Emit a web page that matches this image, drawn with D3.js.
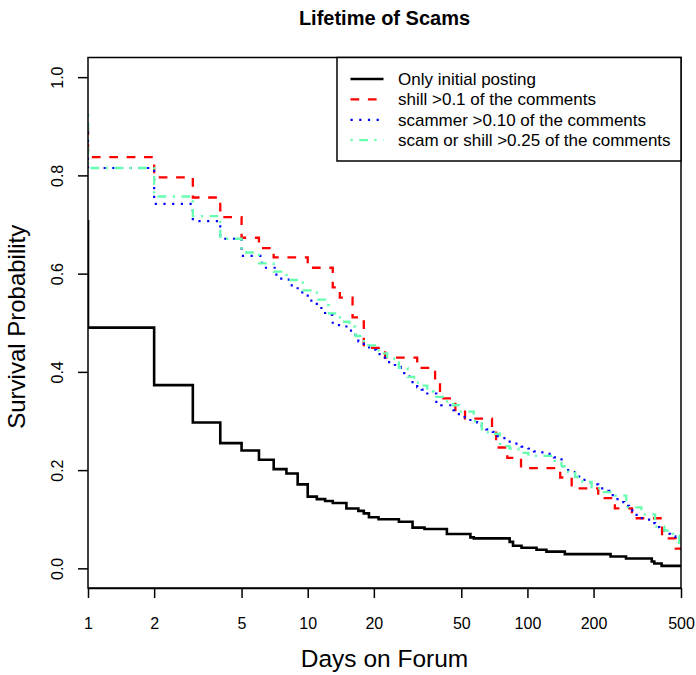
<!DOCTYPE html>
<html>
<head>
<meta charset="utf-8">
<script src="https://cdn.jsdelivr.net/npm/d3@7"></script>
<style>
  body { margin: 0; background: #fff; }
  text { font-family: "Liberation Sans", Arial, sans-serif; }
</style>
</head>
<body>
<div id="chart"></div>
<script>
// survival curves (time in days, survival after the step)
var blackStart = 0.709;
var blackTimes = [1, 2, 3, 4, 5, 6, 7, 8, 9, 10, 11, 12, 13, 15, 17, 18, 19, 21, 26, 30, 34, 43, 55, 57, 83, 86, 94, 110, 122, 148, 239, 281, 368, 378, 408];
var blackSurv = [0.490, 0.373, 0.297, 0.255, 0.240, 0.221, 0.202, 0.193, 0.171, 0.146, 0.141, 0.137, 0.133, 0.122, 0.117, 0.112, 0.104, 0.100, 0.095, 0.083, 0.080, 0.070, 0.063, 0.061, 0.054, 0.046, 0.042, 0.038, 0.034, 0.029, 0.024, 0.020, 0.014, 0.010, 0.005];

var redStart = 0.90;
var redTimes = [1, 2, 3, 4, 5, 6, 7, 10, 13, 14, 16, 18, 22.5, 31.5, 38, 40, 47, 52, 69, 72, 81, 93.5, 141, 159, 210, 250, 299, 410, 473];
var redSurv = [0.837, 0.796, 0.755, 0.715, 0.673, 0.652, 0.633, 0.612, 0.572, 0.551, 0.511, 0.449, 0.429, 0.408, 0.380, 0.346, 0.322, 0.305, 0.280, 0.246, 0.225, 0.204, 0.185, 0.163, 0.143, 0.122, 0.102, 0.061, 0.040];

var blueStart = 0.925;
var blueTimes = [1, 2, 3, 4, 5, 6.2, 7.2, 8.2, 9, 10, 11, 12, 13, 15, 16.5, 17, 18, 19.5, 20.5, 21.5, 22.5, 24, 25, 26.5, 27.5, 29, 30, 31.5, 33, 34.5, 38.5, 40.5, 46, 48, 51, 55, 59, 62, 65, 69.5, 73, 77.5, 82, 88, 94, 101, 107, 115, 124, 132, 143, 150, 161, 168, 178, 189, 202, 210, 222, 236, 251, 262, 276, 290, 306, 320, 343, 364, 381, 398, 423, 446, 471, 490];
var blueSurv = [0.815, 0.742, 0.707, 0.671, 0.636, 0.612, 0.590, 0.576, 0.562, 0.545, 0.530, 0.516, 0.495, 0.484, 0.470, 0.462, 0.450, 0.445, 0.436, 0.429, 0.420, 0.414, 0.410, 0.400, 0.391, 0.386, 0.376, 0.369, 0.364, 0.356, 0.339, 0.332, 0.322, 0.314, 0.308, 0.302, 0.297, 0.290, 0.283, 0.278, 0.269, 0.265, 0.258, 0.254, 0.248, 0.244, 0.238, 0.236, 0.233, 0.226, 0.208, 0.200, 0.196, 0.187, 0.180, 0.175, 0.171, 0.163, 0.158, 0.149, 0.141, 0.135, 0.127, 0.118, 0.109, 0.102, 0.099, 0.092, 0.084, 0.077, 0.070, 0.065, 0.056, 0.048];

var greenStart = 0.925;
var greenTimes = [1, 2, 3, 4, 5, 6, 7, 8, 9.5, 11, 12, 12.5, 14, 15.5, 16.5, 18, 21, 23, 26, 28.5, 30.5, 33, 35, 37.5, 42, 46, 49, 57, 62, 66, 75, 83, 91, 101, 133, 143, 153, 165, 178, 196, 220, 251, 282, 330, 381, 420, 460, 490];
var greenSurv = [0.815, 0.757, 0.717, 0.671, 0.643, 0.621, 0.604, 0.587, 0.566, 0.547, 0.536, 0.519, 0.502, 0.492, 0.473, 0.454, 0.4375, 0.427, 0.408, 0.390, 0.378, 0.372, 0.360, 0.349, 0.340, 0.332, 0.319, 0.300, 0.283, 0.274, 0.249, 0.244, 0.235, 0.229, 0.219, 0.208, 0.196, 0.186, 0.176, 0.163, 0.155, 0.148, 0.124, 0.110, 0.085, 0.077, 0.067, 0.048];

var xTicks = [1, 2, 5, 10, 20, 50, 100, 200, 500];
var yTicks = [0, 0.2, 0.4, 0.6, 0.8, 1.0];
var legendLabels = ["Only initial posting", "shill >0.1 of the comments", "scammer >0.10 of the comments", "scam or shill >0.25 of the comments"];

var W = 696, H = 675;
var mLeft = 88, mRight = 681, mTop = 57.5, mBottom = 588;

var svg = d3.select("#chart").append("svg")
  .attr("width", W)
  .attr("height", H);

// scales (R style: y padded 4% each side, x exact)
var x = d3.scaleLog().domain([1, 500]).range([mLeft, mRight]);
var y = d3.scaleLinear().domain([-0.04, 1.04]).range([mBottom, mTop]);

var series = [
  { start: blackStart, times: blackTimes, surv: blackSurv, color: "#000000", dash: null, width: 2.6 },
  { start: redStart, times: redTimes, surv: redSurv, color: "#ff0000", dash: "8.7,8.7", width: 2.3 },
  { start: blueStart, times: blueTimes, surv: blueSurv, color: "#0000ff", dash: "2.2,6.5", width: 2.2 },
  { start: greenStart, times: greenTimes, surv: greenSurv, color: "#66ffb0", dash: "2.2,6.5,8.7,6.5", width: 2.3 }
];

var line = d3.line()
  .x(function(d) { return x(d[0]); })
  .y(function(d) { return y(d[1]); })
  .curve(d3.curveStepAfter);

svg.append("clipPath").attr("id", "plotclip")
  .append("rect")
  .attr("x", mLeft).attr("y", mTop)
  .attr("width", mRight - mLeft).attr("height", mBottom - mTop);

var plot = svg.append("g").attr("clip-path", "url(#plotclip)");

// R draws the curves in order, last one on top
series.forEach(function(s) {
  var pts = [[1, s.start]];
  s.times.forEach(function(t, i) { pts.push([t, s.surv[i]]); });
  pts.push([500, s.surv[s.surv.length - 1]]);
  plot.append("path")
    .attr("d", line(pts))
    .attr("fill", "none")
    .attr("stroke", s.color)
    .attr("stroke-width", s.width)
    .attr("stroke-dasharray", s.dash);
});

// box
svg.append("rect")
  .attr("x", mLeft).attr("y", mTop)
  .attr("width", mRight - mLeft).attr("height", mBottom - mTop)
  .attr("fill", "none")
  .attr("stroke", "#000")
  .attr("stroke-width", 1.5);

// x axis
var xAxis = svg.append("g")
  .attr("transform", "translate(0," + mBottom + ")")
  .call(d3.axisBottom(x).tickValues(xTicks).tickFormat(d3.format("d")).tickSize(10).tickSizeOuter(0).tickPadding(20));
xAxis.select(".domain").attr("stroke-width", 1.5);
xAxis.selectAll(".tick line").attr("stroke-width", 1.5);
xAxis.selectAll(".tick text")
  .style("font-size", "16px")
  .style("font-family", "Liberation Sans, Arial, sans-serif")
  .attr("fill", "#000");

// y axis with rotated labels
var yAxis = svg.append("g")
  .attr("transform", "translate(" + mLeft + ",0)")
  .call(d3.axisLeft(y).tickValues(yTicks).tickFormat(d3.format(".1f")).tickSize(10).tickSizeOuter(0));
yAxis.select(".domain").remove();
yAxis.selectAll(".tick line").attr("stroke-width", 1.5);
yAxis.selectAll(".tick text")
  .attr("x", null).attr("dy", null)
  .attr("transform", "translate(-25.5,0) rotate(-90)")
  .attr("text-anchor", "middle")
  .style("font-size", "16px")
  .style("font-family", "Liberation Sans, Arial, sans-serif")
  .attr("fill", "#000");

// title and axis labels
svg.append("text")
  .attr("x", (mLeft + mRight) / 2)
  .attr("y", 25)
  .attr("text-anchor", "middle")
  .style("font-size", "20px")
  .attr("font-weight", "bold")
  .text("Lifetime of Scams");

svg.append("text")
  .attr("x", (mLeft + mRight) / 2)
  .attr("y", 667)
  .attr("text-anchor", "middle")
  .style("font-size", "24.5px")
  .text("Days on Forum");

svg.append("text")
  .attr("transform", "translate(25," + ((mTop + mBottom) / 2 + 4) + ") rotate(-90)")
  .attr("text-anchor", "middle")
  .style("font-size", "24px")
  .text("Survival Probability");

// legend
var lg = svg.append("g");
lg.append("rect")
  .attr("x", 337).attr("y", mTop)
  .attr("width", mRight - 337).attr("height", 161 - mTop)
  .attr("fill", "#fff")
  .attr("stroke", "#000")
  .attr("stroke-width", 1.5);

legendLabels.forEach(function(lab, i) {
  var cy = 79 + i * 20.4;
  var s = series[i];
  lg.append("line")
    .attr("x1", 350.5).attr("x2", 383.5)
    .attr("y1", cy).attr("y2", cy)
    .attr("stroke", s.color)
    .attr("stroke-width", s.width)
    .attr("stroke-dasharray", s.dash);
  lg.append("text")
    .attr("x", 398)
    .attr("y", cy + 6)
    .style("font-size", "17px")
    .text(lab);
});
</script>
</body>
</html>
